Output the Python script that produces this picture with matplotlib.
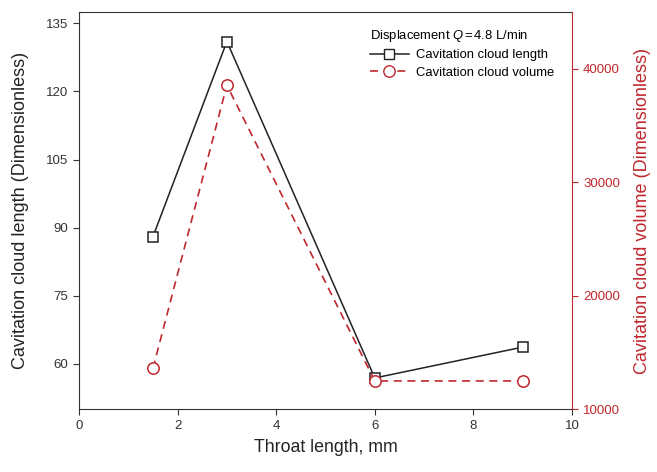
import matplotlib.pyplot as plt
from matplotlib.lines import Line2D

plt.rcParams['font.family'] = ['Liberation Sans', 'DejaVu Sans']
plt.rcParams['mathtext.fontset'] = 'custom'
plt.rcParams['mathtext.it'] = 'Liberation Sans:italic'
plt.rcParams['mathtext.rm'] = 'Liberation Sans'

# Data
throat_len = [1.5, 3, 6, 9]
cloud_length = [88, 131, 56.9, 63.7]
cloud_volume = [13600, 38550, 12500, 12500]

red = '#c0272d'
dark = '#222222'

fig = plt.figure(figsize=(6.57, 4.72), dpi=100)
ax1 = fig.add_axes([0.1202, 0.1328, 0.7504, 0.8418])
ax2 = ax1.twinx()

ax1.plot(throat_len, cloud_length, color=dark, lw=1.1, marker='s', ms=7,
         mfc='white', mec=dark, mew=1.1)
ax2.plot(throat_len, cloud_volume, color=red, lw=1.2, ls=(0, (4.8, 3.4)), marker='o', ms=8.2,
         mfc='white', mec=red, mew=1.1)

ax1.set_xlim(0, 10)
ax1.set_ylim(50, 137.5)
ax2.set_ylim(10000, 45000)
ax1.set_xticks([0, 2, 4, 6, 8, 10])
ax1.set_yticks([60, 75, 90, 105, 120, 135])
ax2.set_yticks([10000, 20000, 30000, 40000])

ax1.tick_params(axis='both', direction='out', labelsize=9.5, length=4.5, colors='#333333')
ax2.tick_params(axis='y', direction='out', labelsize=9.5, length=4.5, colors=red)
ax2.spines['right'].set_color(red)
for sp in ['left', 'bottom', 'top']:
    ax1.spines[sp].set_color('#333333')
    ax2.spines[sp].set_visible(False)
ax1.spines['right'].set_visible(False)

ax1.set_xlabel('Throat length, mm', fontsize=12.8, labelpad=4.5, color=dark)
ax1.set_ylabel('Cavitation cloud length (Dimensionless)', fontsize=13, labelpad=12, color=dark)
ax2.set_ylabel('Cavitation cloud volume (Dimensionless)', fontsize=13, color=red, labelpad=10)

handles = [
    Line2D([], [], color=dark, lw=1.1, marker='s', ms=7, mfc='white', mec=dark),
    Line2D([], [], color=red, lw=1.2, ls=(0, (4.8, 3.4)), marker='o', ms=8.2, mfc='white', mec=red),
]
leg = ax2.legend(handles, ['Cavitation cloud length', 'Cavitation cloud volume'],
                 title=r'Displacement $Q\,$=$\,$4.8 L/min', loc='upper left',
                 bbox_to_anchor=(0.59, 0.96), frameon=False, fontsize=9.4,
                 title_fontsize=9.4, alignment='left', handlelength=3.0,
                 handletextpad=0.55, labelspacing=0.4, borderpad=0, borderaxespad=0)

fig.savefig('out.png', dpi=100)
